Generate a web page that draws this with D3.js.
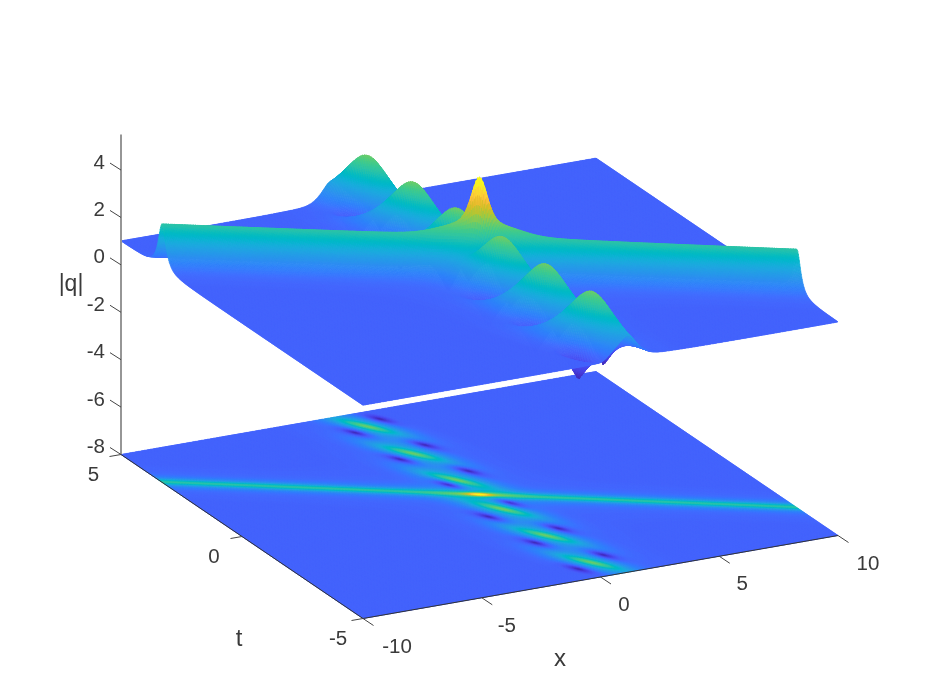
<!DOCTYPE html>
<html><head><meta charset="utf-8">
<script src="https://cdn.jsdelivr.net/npm/d3@7"></script>
<style>
html,body{margin:0;padding:0;background:#fff;overflow:hidden}
#wrap{position:relative;width:926px;height:695px;filter:blur(0.4px)}
canvas,svg{position:absolute;left:0;top:0}
text{font-family:"Liberation Sans",Arial,sans-serif;fill:#3a3a3a}
</style></head><body>
<div id="wrap"><canvas id="c" width="926" height="695"></canvas><svg id="s" width="926" height="695"></svg></div>
<script>
// ---- values ----
const xTicks=[-10,-5,0,5,10];
const tTicks=[-5,0,5];
const zTicks=[-8,-6,-4,-2,0,2,4];
const backgroundLevel=1, floorLevel=-8, zTop=5.5, colourMax=5.35;
// line soliton ridge: t = ridgeSlope * x
const ridgeSlope=-0.33, ridgeAmp=1.9, ridgeWidth=0.22;
// chain of humps (x, t of the crest, height of thin core and of broad base)
const peakX=[-0.40,-0.20,-0.05,0.05,0.20,0.40];
const peakT=[4.25,2.55,0.90,-0.90,-2.55,-4.25];
const peakCore=[1.45,1.45,1.45,1.45,1.45,1.45];
const peakBase=[1.0,1.0,1.0,1.0,1.0,1.0];
// crossing spike
const spikeX=[0], spikeT=[0], spikeH=[2.1];
// zeros (dark spots)
const holeX=[0.40,-1.11,0.62,-0.92,0.79,-0.57,0.62,-0.80,0.97,-0.52,1.16,-0.37];
const holeT=[4.50,4.05,2.86,2.38,1.23,0.73,-0.66,-1.15,-2.31,-2.81,-3.98,-4.45];
const parula=["#3e26a8","#4029b4","#422ec0","#4433ca","#4537d5","#4640de","#4741e5","#4747eb","#474df0","#4752f4","#4758f8","#4660fb","#4463fc","#4269fe","#3e6fff","#3876fe","#327cfc","#2f81fa","#2d87f7","#2d8cf3","#2b91ee","#2796eb","#259be8","#239fe5","#20a5e2","#1ca9df","#18addb","#11b1d6","#08b5d0","#01b8ca","#02bac3","#0bbdbc","#18bfb6","#24c1ae","#2cc3a7","#32c69f","#37c897","#3fca8e","#4acb84","#57cc7a","#64cd6f","#72cc64","#80cc59","#8fca4e","#9dc942","#abc739","#b9c431","#c5c22a","#d1bf27","#dcbd29","#e7bb2d","#f0bb36","#f8be3d","#fdc63b","#fece36","#fbd632","#f8de2f","#f6e52c","#f6ec27","#f7f122","#f8f61e","#f9f91a","#f9fb16","#f9fb14"];

// ---- scales ----
const xH=d3.scaleLinear().domain([-10,10]).range([0,475]);
const xV=d3.scaleLinear().domain([-10,10]).range([0,-83]);
const tH=d3.scaleLinear().domain([5,-5]).range([0,242]);
const tV=d3.scaleLinear().domain([5,-5]).range([0,164]);
const zV=d3.scaleLinear().domain([-8,5.5]).range([0,-320]);
const ox=121, oy=454.5;
const px=(x,t)=>ox+xH(x)+tH(t);
const py=(x,t,z)=>oy+xV(x)+tV(t)+zV(z);
const colour=d3.scaleSequential(d3.piecewise(d3.interpolateRgb,parula)).domain([0,colourMax]).clamp(true);
const lut=d3.range(512).map(i=>d3.color(colour(i/511*colourMax)).formatHex());
const col=z=>lut[Math.max(0,Math.min(511,Math.round(z/colourMax*511)))];

// ---- surface built from the read features ----
const L=1.31;
function height(x,t){
  let b=backgroundLevel;
  for(let i=0;i<peakX.length;i++){
    const dx=x-peakX[i],dt=t-peakT[i];
    const u=(dx-0.85*dt)/L,v=(0.85*dx+dt)/L;
    const r2=(u/1.0)*(u/1.0)+(v/0.22)*(v/0.22);
    const R2=(u/1.4)*(u/1.4)+(v/0.55)*(v/0.55);
    b+=peakCore[i]/Math.pow(1+r2,1.5)+peakBase[i]*Math.exp(-R2);
  }
  for(let i=0;i<holeX.length;i++){
    const dx=x-holeX[i],dt=t-holeT[i];
    const u=(dx-0.85*dt)/L,v=(0.85*dx+dt)/L;
    const r=Math.sqrt((u/0.6)*(u/0.6)+(v/0.25)*(v/0.25));
    b*=1-Math.exp(-r-0.8*r*r);
  }
  const dr=(t-ridgeSlope*x)/ridgeWidth;
  b+=ridgeAmp/Math.pow(1+dr*dr,1.3);
  for(let i=0;i<spikeX.length;i++){
    const dx=x-spikeX[i],dv=t-spikeT[i]-ridgeSlope*dx;
    const r2=(dx/0.55)*(dx/0.55)+(dv/0.15)*(dv/0.15);
    b+=spikeH[i]/Math.pow(1+r2,2.5);
  }
  return b;
}
const xs=d3.range(-10,10.0001,0.05), ts=d3.range(5,-5.0001,-0.02);
const Z=ts.map(t=>xs.map(x=>height(x,t)));

// ---- draw ----
const ctx=document.getElementById('c').getContext('2d');
ctx.fillStyle='#fff';ctx.fillRect(0,0,926,695);
ctx.lineWidth=0.7;ctx.lineJoin='round';
function draw(flat){
  for(let j=0;j<ts.length-1;j++){
    for(let i=xs.length-2;i>=0;i--){
      const a=Z[j][i],b=Z[j][i+1],c=Z[j+1][i+1],d=Z[j+1][i];
      const m=(a+b+c+d)/4, s=col(m);
      const za=flat?floorLevel:a,zb=flat?floorLevel:b,zc=flat?floorLevel:c,zd=flat?floorLevel:d;
      ctx.beginPath();
      ctx.moveTo(px(xs[i],ts[j]),py(xs[i],ts[j],za));
      ctx.lineTo(px(xs[i+1],ts[j]),py(xs[i+1],ts[j],zb));
      ctx.lineTo(px(xs[i+1],ts[j+1]),py(xs[i+1],ts[j+1],zc));
      ctx.lineTo(px(xs[i],ts[j+1]),py(xs[i],ts[j+1],zd));
      ctx.closePath();
      ctx.fillStyle=s;ctx.strokeStyle=s;ctx.fill();ctx.stroke();
    }
  }
}
draw(true);draw(false);

// ---- axes ----
const svg=d3.select('#s');
const axisCol='#333';
svg.append('line').attr('x1',px(-10,5)).attr('x2',px(-10,5)).attr('y1',py(-10,5,-8)).attr('y2',py(-10,5,zTop)).attr('stroke','#969696').attr('stroke-width',2);
svg.append('line').attr('x1',px(-10,5)).attr('y1',py(-10,5,-8)).attr('x2',px(-10,-5)).attr('y2',py(-10,-5,-8)).attr('stroke',axisCol).attr('stroke-width',1);
svg.append('line').attr('x1',px(-10,-5)).attr('y1',py(-10,-5,-8)).attr('x2',px(10,-5)).attr('y2',py(10,-5,-8)).attr('stroke',axisCol).attr('stroke-width',1);
const tick=(d,x1,y1,dx,dy)=>svg.append('line').attr('x1',x1).attr('y1',y1).attr('x2',x1+dx).attr('y2',y1+dy).attr('stroke','#444').attr('stroke-width',1);
zTicks.forEach(z=>tick(z,px(-10,5),py(-10,5,z),-11,-7));
xTicks.forEach(x=>tick(x,px(x,-5),py(x,-5,-8),10.5,7));
tTicks.forEach(t=>tick(t,px(-10,t),py(-10,t,-8),-11.5,2));
const fs=20.5;
const label=(s,x,y,size)=>svg.append('text').attr('x',x).attr('y',y).attr('text-anchor','middle').attr('dominant-baseline','central').attr('font-size',size).text(s);
zTicks.forEach(z=>svg.append('text').attr('x',105).attr('y',py(-10,5,z)-9).attr('text-anchor','end').attr('dominant-baseline','central').attr('font-size',fs).text(z));
const xDx=new Map([[-10,34],[-5,25],[0,23.5],[5,23],[10,30]]);
xTicks.forEach(x=>label(x,px(x,-5)+xDx.get(x),py(x,-5,-8)+26.5,fs));
const tDx=new Map([[-5,-25],[0,-28],[5,-27.5]]);
tTicks.forEach(t=>label(t,px(-10,t)+tDx.get(t),py(-10,t,-8)+19,fs));
label('|q|',71,283,23);
label('t',239,637,24);
label('x',560,657,24);
</script></body></html>
